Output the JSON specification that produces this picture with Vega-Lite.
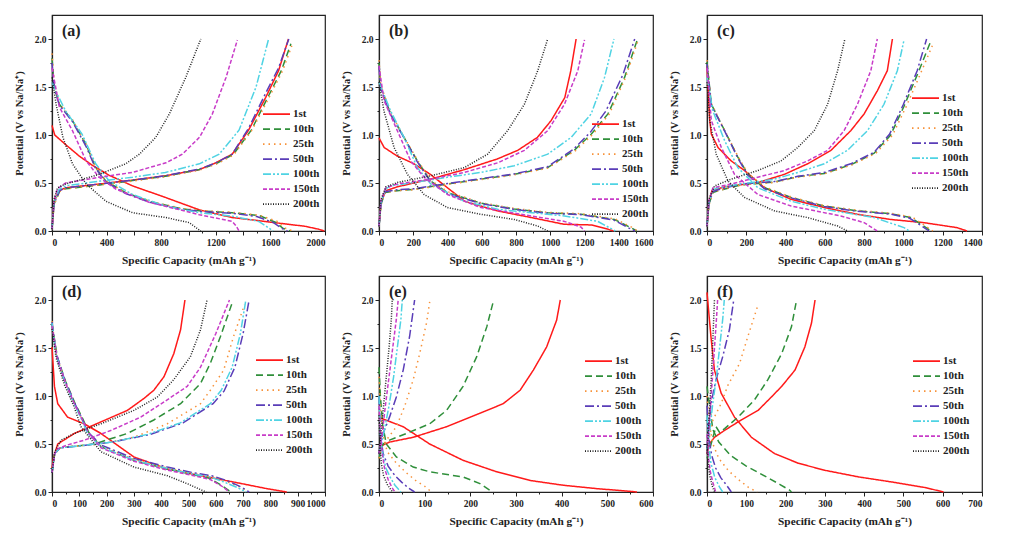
{
"$schema":"https://vega.github.io/schema/vega-lite/v6.json",
"padding":{"left":13,"top":14,"right":5,"bottom":5},
"background":"white",
"data":{"values":[
{"p":"a","c":"1st","b":"d","x":0,"y":1.1},{"p":"a","c":"1st","b":"d","x":20,"y":1},{"p":"a","c":"1st","b":"d","x":100,"y":0.9},{"p":"a","c":"1st","b":"d","x":200,"y":0.78},{"p":"a","c":"1st","b":"d","x":300,"y":0.68},{"p":"a","c":"1st","b":"d","x":420,"y":0.58},{"p":"a","c":"1st","b":"d","x":590,"y":0.47},{"p":"a","c":"1st","b":"d","x":830,"y":0.35},{"p":"a","c":"1st","b":"d","x":1080,"y":0.22},{"p":"a","c":"1st","b":"d","x":1320,"y":0.14},{"p":"a","c":"1st","b":"d","x":1500,"y":0.11},{"p":"a","c":"1st","b":"d","x":1700,"y":0.075},{"p":"a","c":"1st","b":"d","x":1850,"y":0.05},{"p":"a","c":"1st","b":"d","x":1950,"y":0.02},{"p":"a","c":"1st","b":"d","x":1995,"y":0},
{"p":"a","c":"1st","b":"c","x":0,"y":0.02},{"p":"a","c":"1st","b":"c","x":15,"y":0.3},{"p":"a","c":"1st","b":"c","x":50,"y":0.42},{"p":"a","c":"1st","b":"c","x":100,"y":0.45},{"p":"a","c":"1st","b":"c","x":350,"y":0.49},{"p":"a","c":"1st","b":"c","x":590,"y":0.53},{"p":"a","c":"1st","b":"c","x":830,"y":0.575},{"p":"a","c":"1st","b":"c","x":1080,"y":0.64},{"p":"a","c":"1st","b":"c","x":1200,"y":0.71},{"p":"a","c":"1st","b":"c","x":1320,"y":0.8},{"p":"a","c":"1st","b":"c","x":1440,"y":1.05},{"p":"a","c":"1st","b":"c","x":1565,"y":1.39},{"p":"a","c":"1st","b":"c","x":1660,"y":1.67},{"p":"a","c":"1st","b":"c","x":1732,"y":2},
{"p":"a","c":"10th","b":"d","x":0,"y":1.8},{"p":"a","c":"10th","b":"d","x":17,"y":1.5},{"p":"a","c":"10th","b":"d","x":54,"y":1.32},{"p":"a","c":"10th","b":"d","x":150,"y":1.15},{"p":"a","c":"10th","b":"d","x":250,"y":0.9},{"p":"a","c":"10th","b":"d","x":320,"y":0.66},{"p":"a","c":"10th","b":"d","x":395,"y":0.52},{"p":"a","c":"10th","b":"d","x":540,"y":0.4},{"p":"a","c":"10th","b":"d","x":710,"y":0.31},{"p":"a","c":"10th","b":"d","x":955,"y":0.23},{"p":"a","c":"10th","b":"d","x":1080,"y":0.21},{"p":"a","c":"10th","b":"d","x":1320,"y":0.19},{"p":"a","c":"10th","b":"d","x":1520,"y":0.16},{"p":"a","c":"10th","b":"d","x":1640,"y":0.09},{"p":"a","c":"10th","b":"d","x":1690,"y":0.03},{"p":"a","c":"10th","b":"d","x":1750,"y":0},
{"p":"a","c":"10th","b":"c","x":0,"y":0.02},{"p":"a","c":"10th","b":"c","x":15,"y":0.28},{"p":"a","c":"10th","b":"c","x":55,"y":0.41},{"p":"a","c":"10th","b":"c","x":100,"y":0.44},{"p":"a","c":"10th","b":"c","x":350,"y":0.48},{"p":"a","c":"10th","b":"c","x":590,"y":0.525},{"p":"a","c":"10th","b":"c","x":830,"y":0.57},{"p":"a","c":"10th","b":"c","x":1080,"y":0.64},{"p":"a","c":"10th","b":"c","x":1200,"y":0.7},{"p":"a","c":"10th","b":"c","x":1330,"y":0.8},{"p":"a","c":"10th","b":"c","x":1460,"y":1.05},{"p":"a","c":"10th","b":"c","x":1580,"y":1.39},{"p":"a","c":"10th","b":"c","x":1680,"y":1.67},{"p":"a","c":"10th","b":"c","x":1750,"y":1.95},
{"p":"a","c":"25th","b":"d","x":0,"y":1.85},{"p":"a","c":"25th","b":"d","x":17,"y":1.52},{"p":"a","c":"25th","b":"d","x":54,"y":1.33},{"p":"a","c":"25th","b":"d","x":150,"y":1.16},{"p":"a","c":"25th","b":"d","x":250,"y":0.9},{"p":"a","c":"25th","b":"d","x":322,"y":0.66},{"p":"a","c":"25th","b":"d","x":395,"y":0.52},{"p":"a","c":"25th","b":"d","x":540,"y":0.4},{"p":"a","c":"25th","b":"d","x":712,"y":0.31},{"p":"a","c":"25th","b":"d","x":956,"y":0.235},{"p":"a","c":"25th","b":"d","x":1078,"y":0.215},{"p":"a","c":"25th","b":"d","x":1322,"y":0.195},{"p":"a","c":"25th","b":"d","x":1520,"y":0.165},{"p":"a","c":"25th","b":"d","x":1650,"y":0.1},{"p":"a","c":"25th","b":"d","x":1710,"y":0.03},{"p":"a","c":"25th","b":"d","x":1765,"y":0},
{"p":"a","c":"25th","b":"c","x":0,"y":0.02},{"p":"a","c":"25th","b":"c","x":15,"y":0.27},{"p":"a","c":"25th","b":"c","x":55,"y":0.41},{"p":"a","c":"25th","b":"c","x":100,"y":0.44},{"p":"a","c":"25th","b":"c","x":350,"y":0.48},{"p":"a","c":"25th","b":"c","x":590,"y":0.52},{"p":"a","c":"25th","b":"c","x":830,"y":0.565},{"p":"a","c":"25th","b":"c","x":1080,"y":0.635},{"p":"a","c":"25th","b":"c","x":1200,"y":0.695},{"p":"a","c":"25th","b":"c","x":1330,"y":0.79},{"p":"a","c":"25th","b":"c","x":1465,"y":1.05},{"p":"a","c":"25th","b":"c","x":1590,"y":1.39},{"p":"a","c":"25th","b":"c","x":1690,"y":1.67},{"p":"a","c":"25th","b":"c","x":1757,"y":1.93},
{"p":"a","c":"50th","b":"d","x":0,"y":1.75},{"p":"a","c":"50th","b":"d","x":17,"y":1.48},{"p":"a","c":"50th","b":"d","x":54,"y":1.31},{"p":"a","c":"50th","b":"d","x":150,"y":1.14},{"p":"a","c":"50th","b":"d","x":250,"y":0.88},{"p":"a","c":"50th","b":"d","x":320,"y":0.65},{"p":"a","c":"50th","b":"d","x":395,"y":0.51},{"p":"a","c":"50th","b":"d","x":540,"y":0.39},{"p":"a","c":"50th","b":"d","x":712,"y":0.3},{"p":"a","c":"50th","b":"d","x":956,"y":0.225},{"p":"a","c":"50th","b":"d","x":1078,"y":0.205},{"p":"a","c":"50th","b":"d","x":1322,"y":0.185},{"p":"a","c":"50th","b":"d","x":1500,"y":0.15},{"p":"a","c":"50th","b":"d","x":1620,"y":0.09},{"p":"a","c":"50th","b":"d","x":1680,"y":0.03},{"p":"a","c":"50th","b":"d","x":1725,"y":0},
{"p":"a","c":"50th","b":"c","x":0,"y":0.02},{"p":"a","c":"50th","b":"c","x":15,"y":0.29},{"p":"a","c":"50th","b":"c","x":55,"y":0.42},{"p":"a","c":"50th","b":"c","x":100,"y":0.45},{"p":"a","c":"50th","b":"c","x":350,"y":0.49},{"p":"a","c":"50th","b":"c","x":590,"y":0.53},{"p":"a","c":"50th","b":"c","x":830,"y":0.575},{"p":"a","c":"50th","b":"c","x":1080,"y":0.645},{"p":"a","c":"50th","b":"c","x":1200,"y":0.71},{"p":"a","c":"50th","b":"c","x":1320,"y":0.8},{"p":"a","c":"50th","b":"c","x":1440,"y":1.07},{"p":"a","c":"50th","b":"c","x":1560,"y":1.42},{"p":"a","c":"50th","b":"c","x":1660,"y":1.7},{"p":"a","c":"50th","b":"c","x":1735,"y":2},
{"p":"a","c":"100th","b":"d","x":0,"y":1.55},{"p":"a","c":"100th","b":"d","x":30,"y":1.45},{"p":"a","c":"100th","b":"d","x":100,"y":1.25},{"p":"a","c":"100th","b":"d","x":220,"y":1.01},{"p":"a","c":"100th","b":"d","x":320,"y":0.7},{"p":"a","c":"100th","b":"d","x":420,"y":0.52},{"p":"a","c":"100th","b":"d","x":590,"y":0.38},{"p":"a","c":"100th","b":"d","x":830,"y":0.26},{"p":"a","c":"100th","b":"d","x":1080,"y":0.19},{"p":"a","c":"100th","b":"d","x":1320,"y":0.155},{"p":"a","c":"100th","b":"d","x":1515,"y":0.1},{"p":"a","c":"100th","b":"d","x":1590,"y":0.03},{"p":"a","c":"100th","b":"d","x":1620,"y":0},
{"p":"a","c":"100th","b":"c","x":0,"y":0.02},{"p":"a","c":"100th","b":"c","x":15,"y":0.3},{"p":"a","c":"100th","b":"c","x":50,"y":0.43},{"p":"a","c":"100th","b":"c","x":100,"y":0.47},{"p":"a","c":"100th","b":"c","x":350,"y":0.52},{"p":"a","c":"100th","b":"c","x":590,"y":0.56},{"p":"a","c":"100th","b":"c","x":830,"y":0.61},{"p":"a","c":"100th","b":"c","x":1080,"y":0.7},{"p":"a","c":"100th","b":"c","x":1225,"y":0.8},{"p":"a","c":"100th","b":"c","x":1370,"y":1.05},{"p":"a","c":"100th","b":"c","x":1495,"y":1.5},{"p":"a","c":"100th","b":"c","x":1585,"y":1.99},
{"p":"a","c":"150th","b":"d","x":0,"y":1.7},{"p":"a","c":"150th","b":"d","x":54,"y":1.29},{"p":"a","c":"150th","b":"d","x":150,"y":1.045},{"p":"a","c":"150th","b":"d","x":250,"y":0.73},{"p":"a","c":"150th","b":"d","x":345,"y":0.56},{"p":"a","c":"150th","b":"d","x":470,"y":0.435},{"p":"a","c":"150th","b":"d","x":710,"y":0.3},{"p":"a","c":"150th","b":"d","x":1080,"y":0.17},{"p":"a","c":"150th","b":"d","x":1320,"y":0.1},{"p":"a","c":"150th","b":"d","x":1350,"y":0.05},{"p":"a","c":"150th","b":"d","x":1370,"y":0},
{"p":"a","c":"150th","b":"c","x":0,"y":0.02},{"p":"a","c":"150th","b":"c","x":15,"y":0.32},{"p":"a","c":"150th","b":"c","x":40,"y":0.44},{"p":"a","c":"150th","b":"c","x":100,"y":0.5},{"p":"a","c":"150th","b":"c","x":345,"y":0.56},{"p":"a","c":"150th","b":"c","x":590,"y":0.61},{"p":"a","c":"150th","b":"c","x":710,"y":0.66},{"p":"a","c":"150th","b":"c","x":835,"y":0.71},{"p":"a","c":"150th","b":"c","x":955,"y":0.8},{"p":"a","c":"150th","b":"c","x":1080,"y":0.975},{"p":"a","c":"150th","b":"c","x":1175,"y":1.22},{"p":"a","c":"150th","b":"c","x":1275,"y":1.6},{"p":"a","c":"150th","b":"c","x":1358,"y":1.99},
{"p":"a","c":"200th","b":"d","x":0,"y":1.6},{"p":"a","c":"200th","b":"d","x":30,"y":1.32},{"p":"a","c":"200th","b":"d","x":80,"y":0.975},{"p":"a","c":"200th","b":"d","x":150,"y":0.7},{"p":"a","c":"200th","b":"d","x":250,"y":0.49},{"p":"a","c":"200th","b":"d","x":395,"y":0.31},{"p":"a","c":"200th","b":"d","x":590,"y":0.19},{"p":"a","c":"200th","b":"d","x":835,"y":0.14},{"p":"a","c":"200th","b":"d","x":1005,"y":0.087},{"p":"a","c":"200th","b":"d","x":1060,"y":0.03},{"p":"a","c":"200th","b":"d","x":1090,"y":0},
{"p":"a","c":"200th","b":"c","x":0,"y":0.02},{"p":"a","c":"200th","b":"c","x":15,"y":0.33},{"p":"a","c":"200th","b":"c","x":40,"y":0.45},{"p":"a","c":"200th","b":"c","x":100,"y":0.49},{"p":"a","c":"200th","b":"c","x":225,"y":0.54},{"p":"a","c":"200th","b":"c","x":345,"y":0.59},{"p":"a","c":"200th","b":"c","x":540,"y":0.7},{"p":"a","c":"200th","b":"c","x":640,"y":0.8},{"p":"a","c":"200th","b":"c","x":760,"y":0.975},{"p":"a","c":"200th","b":"c","x":860,"y":1.22},{"p":"a","c":"200th","b":"c","x":980,"y":1.6},{"p":"a","c":"200th","b":"c","x":1090,"y":2},

{"p":"b","c":"1st","b":"d","x":0,"y":0.97},{"p":"b","c":"1st","b":"d","x":30,"y":0.87},{"p":"b","c":"1st","b":"d","x":107,"y":0.78},{"p":"b","c":"1st","b":"d","x":205,"y":0.7},{"p":"b","c":"1st","b":"d","x":300,"y":0.59},{"p":"b","c":"1st","b":"d","x":400,"y":0.45},{"p":"b","c":"1st","b":"d","x":500,"y":0.31},{"p":"b","c":"1st","b":"d","x":690,"y":0.21},{"p":"b","c":"1st","b":"d","x":890,"y":0.14},{"p":"b","c":"1st","b":"d","x":1080,"y":0.07},{"p":"b","c":"1st","b":"d","x":1240,"y":0.063},{"p":"b","c":"1st","b":"d","x":1340,"y":0.017},{"p":"b","c":"1st","b":"d","x":1370,"y":0},
{"p":"b","c":"1st","b":"c","x":0,"y":0.05},{"p":"b","c":"1st","b":"c","x":12,"y":0.3},{"p":"b","c":"1st","b":"c","x":40,"y":0.42},{"p":"b","c":"1st","b":"c","x":107,"y":0.46},{"p":"b","c":"1st","b":"c","x":300,"y":0.54},{"p":"b","c":"1st","b":"c","x":500,"y":0.64},{"p":"b","c":"1st","b":"c","x":690,"y":0.75},{"p":"b","c":"1st","b":"c","x":810,"y":0.84},{"p":"b","c":"1st","b":"c","x":925,"y":0.975},{"p":"b","c":"1st","b":"c","x":1005,"y":1.15},{"p":"b","c":"1st","b":"c","x":1085,"y":1.39},{"p":"b","c":"1st","b":"c","x":1120,"y":1.67},{"p":"b","c":"1st","b":"c","x":1151,"y":2},
{"p":"b","c":"10th","b":"d","x":0,"y":1.75},{"p":"b","c":"10th","b":"d","x":10,"y":1.5},{"p":"b","c":"10th","b":"d","x":68,"y":1.22},{"p":"b","c":"10th","b":"d","x":146,"y":0.975},{"p":"b","c":"10th","b":"d","x":224,"y":0.73},{"p":"b","c":"10th","b":"d","x":302,"y":0.52},{"p":"b","c":"10th","b":"d","x":400,"y":0.4},{"p":"b","c":"10th","b":"d","x":595,"y":0.29},{"p":"b","c":"10th","b":"d","x":790,"y":0.23},{"p":"b","c":"10th","b":"d","x":985,"y":0.19},{"p":"b","c":"10th","b":"d","x":1180,"y":0.175},{"p":"b","c":"10th","b":"d","x":1375,"y":0.12},{"p":"b","c":"10th","b":"d","x":1470,"y":0.035},{"p":"b","c":"10th","b":"d","x":1505,"y":0},
{"p":"b","c":"10th","b":"c","x":0,"y":0.05},{"p":"b","c":"10th","b":"c","x":12,"y":0.28},{"p":"b","c":"10th","b":"c","x":35,"y":0.4},{"p":"b","c":"10th","b":"c","x":107,"y":0.42},{"p":"b","c":"10th","b":"c","x":205,"y":0.435},{"p":"b","c":"10th","b":"c","x":400,"y":0.49},{"p":"b","c":"10th","b":"c","x":595,"y":0.54},{"p":"b","c":"10th","b":"c","x":790,"y":0.59},{"p":"b","c":"10th","b":"c","x":985,"y":0.66},{"p":"b","c":"10th","b":"c","x":1140,"y":0.84},{"p":"b","c":"10th","b":"c","x":1240,"y":1.01},{"p":"b","c":"10th","b":"c","x":1337,"y":1.22},{"p":"b","c":"10th","b":"c","x":1434,"y":1.6},{"p":"b","c":"10th","b":"c","x":1508,"y":1.99},
{"p":"b","c":"25th","b":"d","x":0,"y":1.78},{"p":"b","c":"25th","b":"d","x":10,"y":1.52},{"p":"b","c":"25th","b":"d","x":68,"y":1.23},{"p":"b","c":"25th","b":"d","x":146,"y":0.98},{"p":"b","c":"25th","b":"d","x":224,"y":0.74},{"p":"b","c":"25th","b":"d","x":302,"y":0.53},{"p":"b","c":"25th","b":"d","x":400,"y":0.41},{"p":"b","c":"25th","b":"d","x":595,"y":0.295},{"p":"b","c":"25th","b":"d","x":790,"y":0.235},{"p":"b","c":"25th","b":"d","x":985,"y":0.195},{"p":"b","c":"25th","b":"d","x":1180,"y":0.18},{"p":"b","c":"25th","b":"d","x":1380,"y":0.125},{"p":"b","c":"25th","b":"d","x":1475,"y":0.04},{"p":"b","c":"25th","b":"d","x":1510,"y":0},
{"p":"b","c":"25th","b":"c","x":0,"y":0.05},{"p":"b","c":"25th","b":"c","x":12,"y":0.27},{"p":"b","c":"25th","b":"c","x":35,"y":0.4},{"p":"b","c":"25th","b":"c","x":107,"y":0.42},{"p":"b","c":"25th","b":"c","x":205,"y":0.43},{"p":"b","c":"25th","b":"c","x":400,"y":0.485},{"p":"b","c":"25th","b":"c","x":595,"y":0.535},{"p":"b","c":"25th","b":"c","x":790,"y":0.585},{"p":"b","c":"25th","b":"c","x":985,"y":0.655},{"p":"b","c":"25th","b":"c","x":1150,"y":0.84},{"p":"b","c":"25th","b":"c","x":1250,"y":1.01},{"p":"b","c":"25th","b":"c","x":1345,"y":1.22},{"p":"b","c":"25th","b":"c","x":1440,"y":1.6},{"p":"b","c":"25th","b":"c","x":1512,"y":1.98},
{"p":"b","c":"50th","b":"d","x":0,"y":1.72},{"p":"b","c":"50th","b":"d","x":10,"y":1.48},{"p":"b","c":"50th","b":"d","x":68,"y":1.21},{"p":"b","c":"50th","b":"d","x":146,"y":0.97},{"p":"b","c":"50th","b":"d","x":224,"y":0.72},{"p":"b","c":"50th","b":"d","x":302,"y":0.51},{"p":"b","c":"50th","b":"d","x":400,"y":0.39},{"p":"b","c":"50th","b":"d","x":595,"y":0.285},{"p":"b","c":"50th","b":"d","x":790,"y":0.225},{"p":"b","c":"50th","b":"d","x":985,"y":0.185},{"p":"b","c":"50th","b":"d","x":1180,"y":0.17},{"p":"b","c":"50th","b":"d","x":1370,"y":0.115},{"p":"b","c":"50th","b":"d","x":1460,"y":0.03},{"p":"b","c":"50th","b":"d","x":1495,"y":0},
{"p":"b","c":"50th","b":"c","x":0,"y":0.05},{"p":"b","c":"50th","b":"c","x":12,"y":0.29},{"p":"b","c":"50th","b":"c","x":35,"y":0.41},{"p":"b","c":"50th","b":"c","x":107,"y":0.43},{"p":"b","c":"50th","b":"c","x":205,"y":0.44},{"p":"b","c":"50th","b":"c","x":400,"y":0.495},{"p":"b","c":"50th","b":"c","x":595,"y":0.545},{"p":"b","c":"50th","b":"c","x":790,"y":0.595},{"p":"b","c":"50th","b":"c","x":985,"y":0.67},{"p":"b","c":"50th","b":"c","x":1135,"y":0.85},{"p":"b","c":"50th","b":"c","x":1235,"y":1.03},{"p":"b","c":"50th","b":"c","x":1325,"y":1.25},{"p":"b","c":"50th","b":"c","x":1425,"y":1.63},{"p":"b","c":"50th","b":"c","x":1493,"y":2},
{"p":"b","c":"100th","b":"d","x":0,"y":1.55},{"p":"b","c":"100th","b":"d","x":68,"y":1.25},{"p":"b","c":"100th","b":"d","x":146,"y":0.975},{"p":"b","c":"100th","b":"d","x":224,"y":0.66},{"p":"b","c":"100th","b":"d","x":302,"y":0.49},{"p":"b","c":"100th","b":"d","x":498,"y":0.31},{"p":"b","c":"100th","b":"d","x":693,"y":0.226},{"p":"b","c":"100th","b":"d","x":1083,"y":0.157},{"p":"b","c":"100th","b":"d","x":1278,"y":0.1},{"p":"b","c":"100th","b":"d","x":1360,"y":0.02},{"p":"b","c":"100th","b":"d","x":1380,"y":0},
{"p":"b","c":"100th","b":"c","x":0,"y":0.05},{"p":"b","c":"100th","b":"c","x":12,"y":0.3},{"p":"b","c":"100th","b":"c","x":40,"y":0.44},{"p":"b","c":"100th","b":"c","x":68,"y":0.47},{"p":"b","c":"100th","b":"c","x":205,"y":0.505},{"p":"b","c":"100th","b":"c","x":400,"y":0.56},{"p":"b","c":"100th","b":"c","x":595,"y":0.61},{"p":"b","c":"100th","b":"c","x":790,"y":0.68},{"p":"b","c":"100th","b":"c","x":985,"y":0.8},{"p":"b","c":"100th","b":"c","x":1122,"y":0.975},{"p":"b","c":"100th","b":"c","x":1239,"y":1.22},{"p":"b","c":"100th","b":"c","x":1317,"y":1.6},{"p":"b","c":"100th","b":"c","x":1372,"y":2},
{"p":"b","c":"150th","b":"d","x":0,"y":1.72},{"p":"b","c":"150th","b":"d","x":29,"y":1.36},{"p":"b","c":"150th","b":"d","x":107,"y":1.045},{"p":"b","c":"150th","b":"d","x":185,"y":0.73},{"p":"b","c":"150th","b":"d","x":263,"y":0.56},{"p":"b","c":"150th","b":"d","x":400,"y":0.38},{"p":"b","c":"150th","b":"d","x":595,"y":0.244},{"p":"b","c":"150th","b":"d","x":888,"y":0.157},{"p":"b","c":"150th","b":"d","x":1083,"y":0.1},{"p":"b","c":"150th","b":"d","x":1180,"y":0.04},{"p":"b","c":"150th","b":"d","x":1200,"y":0},
{"p":"b","c":"150th","b":"c","x":0,"y":0.05},{"p":"b","c":"150th","b":"c","x":12,"y":0.32},{"p":"b","c":"150th","b":"c","x":40,"y":0.45},{"p":"b","c":"150th","b":"c","x":107,"y":0.49},{"p":"b","c":"150th","b":"c","x":302,"y":0.54},{"p":"b","c":"150th","b":"c","x":498,"y":0.61},{"p":"b","c":"150th","b":"c","x":693,"y":0.71},{"p":"b","c":"150th","b":"c","x":849,"y":0.84},{"p":"b","c":"150th","b":"c","x":985,"y":1.045},{"p":"b","c":"150th","b":"c","x":1083,"y":1.32},{"p":"b","c":"150th","b":"c","x":1161,"y":1.67},{"p":"b","c":"150th","b":"c","x":1200,"y":1.99},
{"p":"b","c":"200th","b":"d","x":0,"y":1.55},{"p":"b","c":"200th","b":"d","x":29,"y":1.25},{"p":"b","c":"200th","b":"d","x":88,"y":0.87},{"p":"b","c":"200th","b":"d","x":166,"y":0.59},{"p":"b","c":"200th","b":"d","x":263,"y":0.38},{"p":"b","c":"200th","b":"d","x":400,"y":0.244},{"p":"b","c":"200th","b":"d","x":595,"y":0.174},{"p":"b","c":"200th","b":"d","x":790,"y":0.12},{"p":"b","c":"200th","b":"d","x":927,"y":0.052},{"p":"b","c":"200th","b":"d","x":985,"y":0},
{"p":"b","c":"200th","b":"c","x":0,"y":0.05},{"p":"b","c":"200th","b":"c","x":12,"y":0.33},{"p":"b","c":"200th","b":"c","x":40,"y":0.46},{"p":"b","c":"200th","b":"c","x":107,"y":0.505},{"p":"b","c":"200th","b":"c","x":302,"y":0.575},{"p":"b","c":"200th","b":"c","x":498,"y":0.66},{"p":"b","c":"200th","b":"c","x":634,"y":0.8},{"p":"b","c":"200th","b":"c","x":751,"y":1.045},{"p":"b","c":"200th","b":"c","x":849,"y":1.32},{"p":"b","c":"200th","b":"c","x":927,"y":1.67},{"p":"b","c":"200th","b":"c","x":985,"y":2},

{"p":"c","c":"1st","b":"d","x":0,"y":1.72},{"p":"c","c":"1st","b":"d","x":14,"y":1.15},{"p":"c","c":"1st","b":"d","x":22,"y":1.01},{"p":"c","c":"1st","b":"d","x":56,"y":0.87},{"p":"c","c":"1st","b":"d","x":123,"y":0.73},{"p":"c","c":"1st","b":"d","x":191,"y":0.63},{"p":"c","c":"1st","b":"d","x":293,"y":0.45},{"p":"c","c":"1st","b":"d","x":428,"y":0.33},{"p":"c","c":"1st","b":"d","x":597,"y":0.244},{"p":"c","c":"1st","b":"d","x":766,"y":0.174},{"p":"c","c":"1st","b":"d","x":935,"y":0.12},{"p":"c","c":"1st","b":"d","x":1104,"y":0.087},{"p":"c","c":"1st","b":"d","x":1273,"y":0.035},{"p":"c","c":"1st","b":"d","x":1324,"y":0},
{"p":"c","c":"1st","b":"c","x":0,"y":0.05},{"p":"c","c":"1st","b":"c","x":10,"y":0.3},{"p":"c","c":"1st","b":"c","x":25,"y":0.42},{"p":"c","c":"1st","b":"c","x":90,"y":0.46},{"p":"c","c":"1st","b":"c","x":259,"y":0.505},{"p":"c","c":"1st","b":"c","x":394,"y":0.59},{"p":"c","c":"1st","b":"c","x":512,"y":0.7},{"p":"c","c":"1st","b":"c","x":631,"y":0.84},{"p":"c","c":"1st","b":"c","x":732,"y":1.045},{"p":"c","c":"1st","b":"c","x":800,"y":1.22},{"p":"c","c":"1st","b":"c","x":867,"y":1.46},{"p":"c","c":"1st","b":"c","x":918,"y":1.67},{"p":"c","c":"1st","b":"c","x":944,"y":2},
{"p":"c","c":"10th","b":"d","x":0,"y":1.76},{"p":"c","c":"10th","b":"d","x":22,"y":1.32},{"p":"c","c":"10th","b":"d","x":90,"y":1.045},{"p":"c","c":"10th","b":"d","x":157,"y":0.77},{"p":"c","c":"10th","b":"d","x":208,"y":0.59},{"p":"c","c":"10th","b":"d","x":293,"y":0.45},{"p":"c","c":"10th","b":"d","x":428,"y":0.35},{"p":"c","c":"10th","b":"d","x":597,"y":0.26},{"p":"c","c":"10th","b":"d","x":766,"y":0.21},{"p":"c","c":"10th","b":"d","x":935,"y":0.18},{"p":"c","c":"10th","b":"d","x":1037,"y":0.14},{"p":"c","c":"10th","b":"d","x":1104,"y":0.052},{"p":"c","c":"10th","b":"d","x":1140,"y":0},
{"p":"c","c":"10th","b":"c","x":0,"y":0.05},{"p":"c","c":"10th","b":"c","x":10,"y":0.28},{"p":"c","c":"10th","b":"c","x":30,"y":0.4},{"p":"c","c":"10th","b":"c","x":56,"y":0.42},{"p":"c","c":"10th","b":"c","x":174,"y":0.48},{"p":"c","c":"10th","b":"c","x":343,"y":0.51},{"p":"c","c":"10th","b":"c","x":462,"y":0.565},{"p":"c","c":"10th","b":"c","x":597,"y":0.6},{"p":"c","c":"10th","b":"c","x":732,"y":0.69},{"p":"c","c":"10th","b":"c","x":851,"y":0.81},{"p":"c","c":"10th","b":"c","x":935,"y":1},{"p":"c","c":"10th","b":"c","x":1003,"y":1.3},{"p":"c","c":"10th","b":"c","x":1075,"y":1.65},{"p":"c","c":"10th","b":"c","x":1138,"y":1.97},
{"p":"c","c":"25th","b":"d","x":0,"y":1.78},{"p":"c","c":"25th","b":"d","x":22,"y":1.33},{"p":"c","c":"25th","b":"d","x":90,"y":1.05},{"p":"c","c":"25th","b":"d","x":157,"y":0.78},{"p":"c","c":"25th","b":"d","x":208,"y":0.6},{"p":"c","c":"25th","b":"d","x":293,"y":0.46},{"p":"c","c":"25th","b":"d","x":428,"y":0.355},{"p":"c","c":"25th","b":"d","x":597,"y":0.265},{"p":"c","c":"25th","b":"d","x":766,"y":0.215},{"p":"c","c":"25th","b":"d","x":935,"y":0.185},{"p":"c","c":"25th","b":"d","x":1045,"y":0.145},{"p":"c","c":"25th","b":"d","x":1110,"y":0.055},{"p":"c","c":"25th","b":"d","x":1150,"y":0},
{"p":"c","c":"25th","b":"c","x":0,"y":0.05},{"p":"c","c":"25th","b":"c","x":10,"y":0.27},{"p":"c","c":"25th","b":"c","x":30,"y":0.4},{"p":"c","c":"25th","b":"c","x":56,"y":0.42},{"p":"c","c":"25th","b":"c","x":174,"y":0.48},{"p":"c","c":"25th","b":"c","x":343,"y":0.505},{"p":"c","c":"25th","b":"c","x":462,"y":0.56},{"p":"c","c":"25th","b":"c","x":597,"y":0.595},{"p":"c","c":"25th","b":"c","x":740,"y":0.69},{"p":"c","c":"25th","b":"c","x":860,"y":0.81},{"p":"c","c":"25th","b":"c","x":945,"y":1},{"p":"c","c":"25th","b":"c","x":1015,"y":1.3},{"p":"c","c":"25th","b":"c","x":1085,"y":1.63},{"p":"c","c":"25th","b":"c","x":1147,"y":1.93},
{"p":"c","c":"50th","b":"d","x":0,"y":1.74},{"p":"c","c":"50th","b":"d","x":22,"y":1.31},{"p":"c","c":"50th","b":"d","x":90,"y":1.04},{"p":"c","c":"50th","b":"d","x":157,"y":0.76},{"p":"c","c":"50th","b":"d","x":208,"y":0.58},{"p":"c","c":"50th","b":"d","x":293,"y":0.44},{"p":"c","c":"50th","b":"d","x":428,"y":0.345},{"p":"c","c":"50th","b":"d","x":597,"y":0.255},{"p":"c","c":"50th","b":"d","x":766,"y":0.205},{"p":"c","c":"50th","b":"d","x":935,"y":0.175},{"p":"c","c":"50th","b":"d","x":1030,"y":0.135},{"p":"c","c":"50th","b":"d","x":1095,"y":0.05},{"p":"c","c":"50th","b":"d","x":1130,"y":0},
{"p":"c","c":"50th","b":"c","x":0,"y":0.05},{"p":"c","c":"50th","b":"c","x":10,"y":0.29},{"p":"c","c":"50th","b":"c","x":30,"y":0.41},{"p":"c","c":"50th","b":"c","x":56,"y":0.43},{"p":"c","c":"50th","b":"c","x":174,"y":0.49},{"p":"c","c":"50th","b":"c","x":343,"y":0.515},{"p":"c","c":"50th","b":"c","x":462,"y":0.57},{"p":"c","c":"50th","b":"c","x":597,"y":0.61},{"p":"c","c":"50th","b":"c","x":732,"y":0.7},{"p":"c","c":"50th","b":"c","x":851,"y":0.82},{"p":"c","c":"50th","b":"c","x":930,"y":1.01},{"p":"c","c":"50th","b":"c","x":1000,"y":1.32},{"p":"c","c":"50th","b":"c","x":1070,"y":1.67},{"p":"c","c":"50th","b":"c","x":1118,"y":2},
{"p":"c","c":"100th","b":"d","x":0,"y":1.6},{"p":"c","c":"100th","b":"d","x":30,"y":1.25},{"p":"c","c":"100th","b":"d","x":90,"y":0.94},{"p":"c","c":"100th","b":"d","x":157,"y":0.66},{"p":"c","c":"100th","b":"d","x":259,"y":0.45},{"p":"c","c":"100th","b":"d","x":428,"y":0.31},{"p":"c","c":"100th","b":"d","x":597,"y":0.226},{"p":"c","c":"100th","b":"d","x":851,"y":0.14},{"p":"c","c":"100th","b":"d","x":1003,"y":0.035},{"p":"c","c":"100th","b":"d","x":1030,"y":0},
{"p":"c","c":"100th","b":"c","x":0,"y":0.05},{"p":"c","c":"100th","b":"c","x":10,"y":0.3},{"p":"c","c":"100th","b":"c","x":30,"y":0.43},{"p":"c","c":"100th","b":"c","x":56,"y":0.45},{"p":"c","c":"100th","b":"c","x":174,"y":0.49},{"p":"c","c":"100th","b":"c","x":343,"y":0.54},{"p":"c","c":"100th","b":"c","x":462,"y":0.61},{"p":"c","c":"100th","b":"c","x":597,"y":0.7},{"p":"c","c":"100th","b":"c","x":715,"y":0.84},{"p":"c","c":"100th","b":"c","x":817,"y":1.045},{"p":"c","c":"100th","b":"c","x":901,"y":1.32},{"p":"c","c":"100th","b":"c","x":969,"y":1.67},{"p":"c","c":"100th","b":"c","x":1003,"y":1.99},
{"p":"c","c":"150th","b":"d","x":0,"y":1.7},{"p":"c","c":"150th","b":"d","x":22,"y":1.15},{"p":"c","c":"150th","b":"d","x":73,"y":0.87},{"p":"c","c":"150th","b":"d","x":140,"y":0.59},{"p":"c","c":"150th","b":"d","x":259,"y":0.38},{"p":"c","c":"150th","b":"d","x":428,"y":0.26},{"p":"c","c":"150th","b":"d","x":681,"y":0.157},{"p":"c","c":"150th","b":"d","x":800,"y":0.087},{"p":"c","c":"150th","b":"d","x":867,"y":0},
{"p":"c","c":"150th","b":"c","x":0,"y":0.05},{"p":"c","c":"150th","b":"c","x":10,"y":0.32},{"p":"c","c":"150th","b":"c","x":30,"y":0.45},{"p":"c","c":"150th","b":"c","x":123,"y":0.49},{"p":"c","c":"150th","b":"c","x":259,"y":0.56},{"p":"c","c":"150th","b":"c","x":394,"y":0.63},{"p":"c","c":"150th","b":"c","x":512,"y":0.73},{"p":"c","c":"150th","b":"c","x":614,"y":0.84},{"p":"c","c":"150th","b":"c","x":698,"y":1.045},{"p":"c","c":"150th","b":"c","x":766,"y":1.32},{"p":"c","c":"150th","b":"c","x":834,"y":1.67},{"p":"c","c":"150th","b":"c","x":867,"y":2},
{"p":"c","c":"200th","b":"d","x":0,"y":1.55},{"p":"c","c":"200th","b":"d","x":14,"y":1.15},{"p":"c","c":"200th","b":"d","x":47,"y":0.8},{"p":"c","c":"200th","b":"d","x":107,"y":0.52},{"p":"c","c":"200th","b":"d","x":191,"y":0.35},{"p":"c","c":"200th","b":"d","x":343,"y":0.21},{"p":"c","c":"200th","b":"d","x":512,"y":0.14},{"p":"c","c":"200th","b":"d","x":665,"y":0.052},{"p":"c","c":"200th","b":"d","x":715,"y":0},
{"p":"c","c":"200th","b":"c","x":0,"y":0.05},{"p":"c","c":"200th","b":"c","x":10,"y":0.33},{"p":"c","c":"200th","b":"c","x":39,"y":0.47},{"p":"c","c":"200th","b":"c","x":123,"y":0.54},{"p":"c","c":"200th","b":"c","x":259,"y":0.63},{"p":"c","c":"200th","b":"c","x":377,"y":0.73},{"p":"c","c":"200th","b":"c","x":462,"y":0.87},{"p":"c","c":"200th","b":"c","x":546,"y":1.045},{"p":"c","c":"200th","b":"c","x":614,"y":1.32},{"p":"c","c":"200th","b":"c","x":665,"y":1.67},{"p":"c","c":"200th","b":"c","x":702,"y":2},

{"p":"d","c":"1st","b":"d","x":0,"y":1.51},{"p":"d","c":"1st","b":"d","x":9,"y":1.1},{"p":"d","c":"1st","b":"d","x":21,"y":0.92},{"p":"d","c":"1st","b":"d","x":57,"y":0.78},{"p":"d","c":"1st","b":"d","x":118,"y":0.71},{"p":"d","c":"1st","b":"d","x":179,"y":0.61},{"p":"d","c":"1st","b":"d","x":300,"y":0.365},{"p":"d","c":"1st","b":"d","x":422,"y":0.24},{"p":"d","c":"1st","b":"d","x":544,"y":0.17},{"p":"d","c":"1st","b":"d","x":665,"y":0.104},{"p":"d","c":"1st","b":"d","x":787,"y":0.035},{"p":"d","c":"1st","b":"d","x":860,"y":0},
{"p":"d","c":"1st","b":"c","x":0,"y":0.25},{"p":"d","c":"1st","b":"c","x":6,"y":0.365},{"p":"d","c":"1st","b":"c","x":21,"y":0.5},{"p":"d","c":"1st","b":"c","x":82,"y":0.61},{"p":"d","c":"1st","b":"c","x":179,"y":0.73},{"p":"d","c":"1st","b":"c","x":276,"y":0.85},{"p":"d","c":"1st","b":"c","x":337,"y":0.975},{"p":"d","c":"1st","b":"c","x":373,"y":1.06},{"p":"d","c":"1st","b":"c","x":410,"y":1.2},{"p":"d","c":"1st","b":"c","x":446,"y":1.44},{"p":"d","c":"1st","b":"c","x":471,"y":1.69},{"p":"d","c":"1st","b":"c","x":487,"y":2},
{"p":"d","c":"10th","b":"d","x":0,"y":1.75},{"p":"d","c":"10th","b":"d","x":20,"y":1.4},{"p":"d","c":"10th","b":"d","x":50,"y":1.15},{"p":"d","c":"10th","b":"d","x":85,"y":0.92},{"p":"d","c":"10th","b":"d","x":110,"y":0.78},{"p":"d","c":"10th","b":"d","x":135,"y":0.62},{"p":"d","c":"10th","b":"d","x":180,"y":0.47},{"p":"d","c":"10th","b":"d","x":300,"y":0.33},{"p":"d","c":"10th","b":"d","x":420,"y":0.24},{"p":"d","c":"10th","b":"d","x":520,"y":0.18},{"p":"d","c":"10th","b":"d","x":580,"y":0.14},{"p":"d","c":"10th","b":"d","x":620,"y":0.07},{"p":"d","c":"10th","b":"d","x":655,"y":0},
{"p":"d","c":"10th","b":"c","x":0,"y":0.2},{"p":"d","c":"10th","b":"c","x":10,"y":0.4},{"p":"d","c":"10th","b":"c","x":30,"y":0.46},{"p":"d","c":"10th","b":"c","x":57,"y":0.47},{"p":"d","c":"10th","b":"c","x":155,"y":0.5},{"p":"d","c":"10th","b":"c","x":276,"y":0.61},{"p":"d","c":"10th","b":"c","x":373,"y":0.75},{"p":"d","c":"10th","b":"c","x":471,"y":0.92},{"p":"d","c":"10th","b":"c","x":544,"y":1.13},{"p":"d","c":"10th","b":"c","x":580,"y":1.34},{"p":"d","c":"10th","b":"c","x":617,"y":1.62},{"p":"d","c":"10th","b":"c","x":660,"y":1.97},
{"p":"d","c":"25th","b":"d","x":0,"y":1.78},{"p":"d","c":"25th","b":"d","x":15,"y":1.44},{"p":"d","c":"25th","b":"d","x":45,"y":1.17},{"p":"d","c":"25th","b":"d","x":82,"y":0.92},{"p":"d","c":"25th","b":"d","x":106,"y":0.78},{"p":"d","c":"25th","b":"d","x":130,"y":0.62},{"p":"d","c":"25th","b":"d","x":179,"y":0.48},{"p":"d","c":"25th","b":"d","x":300,"y":0.34},{"p":"d","c":"25th","b":"d","x":422,"y":0.25},{"p":"d","c":"25th","b":"d","x":519,"y":0.19},{"p":"d","c":"25th","b":"d","x":580,"y":0.165},{"p":"d","c":"25th","b":"d","x":630,"y":0.12},{"p":"d","c":"25th","b":"d","x":690,"y":0.05},{"p":"d","c":"25th","b":"d","x":718,"y":0},
{"p":"d","c":"25th","b":"c","x":0,"y":0.2},{"p":"d","c":"25th","b":"c","x":10,"y":0.4},{"p":"d","c":"25th","b":"c","x":30,"y":0.46},{"p":"d","c":"25th","b":"c","x":57,"y":0.47},{"p":"d","c":"25th","b":"c","x":179,"y":0.5},{"p":"d","c":"25th","b":"c","x":300,"y":0.57},{"p":"d","c":"25th","b":"c","x":422,"y":0.71},{"p":"d","c":"25th","b":"c","x":544,"y":0.92},{"p":"d","c":"25th","b":"c","x":580,"y":1.06},{"p":"d","c":"25th","b":"c","x":629,"y":1.27},{"p":"d","c":"25th","b":"c","x":665,"y":1.62},{"p":"d","c":"25th","b":"c","x":705,"y":1.95},
{"p":"d","c":"50th","b":"d","x":0,"y":1.77},{"p":"d","c":"50th","b":"d","x":15,"y":1.45},{"p":"d","c":"50th","b":"d","x":45,"y":1.18},{"p":"d","c":"50th","b":"d","x":82,"y":0.93},{"p":"d","c":"50th","b":"d","x":106,"y":0.79},{"p":"d","c":"50th","b":"d","x":130,"y":0.63},{"p":"d","c":"50th","b":"d","x":179,"y":0.49},{"p":"d","c":"50th","b":"d","x":300,"y":0.35},{"p":"d","c":"50th","b":"d","x":422,"y":0.26},{"p":"d","c":"50th","b":"d","x":519,"y":0.2},{"p":"d","c":"50th","b":"d","x":585,"y":0.17},{"p":"d","c":"50th","b":"d","x":640,"y":0.12},{"p":"d","c":"50th","b":"d","x":695,"y":0.05},{"p":"d","c":"50th","b":"d","x":722,"y":0},
{"p":"d","c":"50th","b":"c","x":0,"y":0.2},{"p":"d","c":"50th","b":"c","x":10,"y":0.4},{"p":"d","c":"50th","b":"c","x":30,"y":0.46},{"p":"d","c":"50th","b":"c","x":100,"y":0.48},{"p":"d","c":"50th","b":"c","x":220,"y":0.52},{"p":"d","c":"50th","b":"c","x":360,"y":0.6},{"p":"d","c":"50th","b":"c","x":480,"y":0.72},{"p":"d","c":"50th","b":"c","x":590,"y":0.92},{"p":"d","c":"50th","b":"c","x":630,"y":1.05},{"p":"d","c":"50th","b":"c","x":670,"y":1.3},{"p":"d","c":"50th","b":"c","x":700,"y":1.65},{"p":"d","c":"50th","b":"c","x":722,"y":2},
{"p":"d","c":"100th","b":"d","x":0,"y":1.76},{"p":"d","c":"100th","b":"d","x":15,"y":1.43},{"p":"d","c":"100th","b":"d","x":45,"y":1.16},{"p":"d","c":"100th","b":"d","x":82,"y":0.91},{"p":"d","c":"100th","b":"d","x":106,"y":0.77},{"p":"d","c":"100th","b":"d","x":130,"y":0.61},{"p":"d","c":"100th","b":"d","x":179,"y":0.47},{"p":"d","c":"100th","b":"d","x":300,"y":0.33},{"p":"d","c":"100th","b":"d","x":422,"y":0.245},{"p":"d","c":"100th","b":"d","x":519,"y":0.185},{"p":"d","c":"100th","b":"d","x":575,"y":0.16},{"p":"d","c":"100th","b":"d","x":625,"y":0.11},{"p":"d","c":"100th","b":"d","x":680,"y":0.045},{"p":"d","c":"100th","b":"d","x":712,"y":0},
{"p":"d","c":"100th","b":"c","x":0,"y":0.2},{"p":"d","c":"100th","b":"c","x":10,"y":0.4},{"p":"d","c":"100th","b":"c","x":30,"y":0.46},{"p":"d","c":"100th","b":"c","x":100,"y":0.48},{"p":"d","c":"100th","b":"c","x":220,"y":0.52},{"p":"d","c":"100th","b":"c","x":350,"y":0.6},{"p":"d","c":"100th","b":"c","x":470,"y":0.72},{"p":"d","c":"100th","b":"c","x":580,"y":0.92},{"p":"d","c":"100th","b":"c","x":620,"y":1.06},{"p":"d","c":"100th","b":"c","x":660,"y":1.3},{"p":"d","c":"100th","b":"c","x":690,"y":1.65},{"p":"d","c":"100th","b":"c","x":710,"y":2},
{"p":"d","c":"150th","b":"d","x":0,"y":1.73},{"p":"d","c":"150th","b":"d","x":20,"y":1.38},{"p":"d","c":"150th","b":"d","x":50,"y":1.13},{"p":"d","c":"150th","b":"d","x":85,"y":0.9},{"p":"d","c":"150th","b":"d","x":110,"y":0.76},{"p":"d","c":"150th","b":"d","x":135,"y":0.61},{"p":"d","c":"150th","b":"d","x":180,"y":0.46},{"p":"d","c":"150th","b":"d","x":300,"y":0.32},{"p":"d","c":"150th","b":"d","x":420,"y":0.23},{"p":"d","c":"150th","b":"d","x":520,"y":0.17},{"p":"d","c":"150th","b":"d","x":580,"y":0.13},{"p":"d","c":"150th","b":"d","x":620,"y":0.065},{"p":"d","c":"150th","b":"d","x":650,"y":0},
{"p":"d","c":"150th","b":"c","x":0,"y":0.2},{"p":"d","c":"150th","b":"c","x":10,"y":0.4},{"p":"d","c":"150th","b":"c","x":20,"y":0.45},{"p":"d","c":"150th","b":"c","x":57,"y":0.49},{"p":"d","c":"150th","b":"c","x":118,"y":0.54},{"p":"d","c":"150th","b":"c","x":215,"y":0.64},{"p":"d","c":"150th","b":"c","x":325,"y":0.78},{"p":"d","c":"150th","b":"c","x":422,"y":0.96},{"p":"d","c":"150th","b":"c","x":495,"y":1.1},{"p":"d","c":"150th","b":"c","x":544,"y":1.3},{"p":"d","c":"150th","b":"c","x":600,"y":1.65},{"p":"d","c":"150th","b":"c","x":650,"y":2},
{"p":"d","c":"200th","b":"d","x":0,"y":1.7},{"p":"d","c":"200th","b":"d","x":15,"y":1.4},{"p":"d","c":"200th","b":"d","x":45,"y":1.12},{"p":"d","c":"200th","b":"d","x":82,"y":0.88},{"p":"d","c":"200th","b":"d","x":106,"y":0.68},{"p":"d","c":"200th","b":"d","x":179,"y":0.42},{"p":"d","c":"200th","b":"d","x":300,"y":0.26},{"p":"d","c":"200th","b":"d","x":422,"y":0.17},{"p":"d","c":"200th","b":"d","x":495,"y":0.087},{"p":"d","c":"200th","b":"d","x":540,"y":0.03},{"p":"d","c":"200th","b":"d","x":565,"y":0},
{"p":"d","c":"200th","b":"c","x":0,"y":0.2},{"p":"d","c":"200th","b":"c","x":10,"y":0.42},{"p":"d","c":"200th","b":"c","x":33,"y":0.54},{"p":"d","c":"200th","b":"c","x":82,"y":0.61},{"p":"d","c":"200th","b":"c","x":179,"y":0.71},{"p":"d","c":"200th","b":"c","x":300,"y":0.85},{"p":"d","c":"200th","b":"c","x":386,"y":0.99},{"p":"d","c":"200th","b":"c","x":446,"y":1.17},{"p":"d","c":"200th","b":"c","x":507,"y":1.41},{"p":"d","c":"200th","b":"c","x":544,"y":1.69},{"p":"d","c":"200th","b":"c","x":568,"y":2},

{"p":"e","c":"1st","b":"d","x":0,"y":0.77},{"p":"e","c":"1st","b":"d","x":9,"y":0.76},{"p":"e","c":"1st","b":"d","x":53,"y":0.68},{"p":"e","c":"1st","b":"d","x":111,"y":0.5},{"p":"e","c":"1st","b":"d","x":184,"y":0.33},{"p":"e","c":"1st","b":"d","x":258,"y":0.21},{"p":"e","c":"1st","b":"d","x":331,"y":0.12},{"p":"e","c":"1st","b":"d","x":404,"y":0.07},{"p":"e","c":"1st","b":"d","x":477,"y":0.035},{"p":"e","c":"1st","b":"d","x":550,"y":0.007},{"p":"e","c":"1st","b":"d","x":565,"y":0},
{"p":"e","c":"1st","b":"c","x":0,"y":0.4},{"p":"e","c":"1st","b":"c","x":3,"y":0.46},{"p":"e","c":"1st","b":"c","x":9,"y":0.49},{"p":"e","c":"1st","b":"c","x":23,"y":0.52},{"p":"e","c":"1st","b":"c","x":75,"y":0.57},{"p":"e","c":"1st","b":"c","x":148,"y":0.68},{"p":"e","c":"1st","b":"c","x":221,"y":0.82},{"p":"e","c":"1st","b":"c","x":272,"y":0.92},{"p":"e","c":"1st","b":"c","x":309,"y":1.06},{"p":"e","c":"1st","b":"c","x":338,"y":1.27},{"p":"e","c":"1st","b":"c","x":367,"y":1.51},{"p":"e","c":"1st","b":"c","x":389,"y":1.79},{"p":"e","c":"1st","b":"c","x":397,"y":2},
{"p":"e","c":"10th","b":"d","x":0,"y":1.3},{"p":"e","c":"10th","b":"d","x":3,"y":1},{"p":"e","c":"10th","b":"d","x":8,"y":0.7},{"p":"e","c":"10th","b":"d","x":16,"y":0.5},{"p":"e","c":"10th","b":"d","x":38,"y":0.365},{"p":"e","c":"10th","b":"d","x":75,"y":0.26},{"p":"e","c":"10th","b":"d","x":111,"y":0.21},{"p":"e","c":"10th","b":"d","x":184,"y":0.157},{"p":"e","c":"10th","b":"d","x":221,"y":0.087},{"p":"e","c":"10th","b":"d","x":243,"y":0.017},{"p":"e","c":"10th","b":"d","x":250,"y":0},
{"p":"e","c":"10th","b":"c","x":0,"y":0.35},{"p":"e","c":"10th","b":"c","x":5,"y":0.45},{"p":"e","c":"10th","b":"c","x":9,"y":0.5},{"p":"e","c":"10th","b":"c","x":23,"y":0.54},{"p":"e","c":"10th","b":"c","x":60,"y":0.61},{"p":"e","c":"10th","b":"c","x":111,"y":0.71},{"p":"e","c":"10th","b":"c","x":148,"y":0.85},{"p":"e","c":"10th","b":"c","x":184,"y":1.1},{"p":"e","c":"10th","b":"c","x":214,"y":1.41},{"p":"e","c":"10th","b":"c","x":236,"y":1.72},{"p":"e","c":"10th","b":"c","x":250,"y":1.98},
{"p":"e","c":"25th","b":"d","x":0,"y":1.2},{"p":"e","c":"25th","b":"d","x":3,"y":0.9},{"p":"e","c":"25th","b":"d","x":8,"y":0.6},{"p":"e","c":"25th","b":"d","x":18,"y":0.42},{"p":"e","c":"25th","b":"d","x":38,"y":0.3},{"p":"e","c":"25th","b":"d","x":60,"y":0.2},{"p":"e","c":"25th","b":"d","x":80,"y":0.12},{"p":"e","c":"25th","b":"d","x":100,"y":0.06},{"p":"e","c":"25th","b":"d","x":115,"y":0},
{"p":"e","c":"25th","b":"c","x":0,"y":0.35},{"p":"e","c":"25th","b":"c","x":5,"y":0.45},{"p":"e","c":"25th","b":"c","x":16,"y":0.54},{"p":"e","c":"25th","b":"c","x":38,"y":0.68},{"p":"e","c":"25th","b":"c","x":56,"y":0.89},{"p":"e","c":"25th","b":"c","x":75,"y":1.17},{"p":"e","c":"25th","b":"c","x":89,"y":1.44},{"p":"e","c":"25th","b":"c","x":104,"y":1.76},{"p":"e","c":"25th","b":"c","x":111,"y":1.98},
{"p":"e","c":"50th","b":"d","x":0,"y":1},{"p":"e","c":"50th","b":"d","x":3,"y":0.6},{"p":"e","c":"50th","b":"d","x":9,"y":0.4},{"p":"e","c":"50th","b":"d","x":20,"y":0.27},{"p":"e","c":"50th","b":"d","x":35,"y":0.17},{"p":"e","c":"50th","b":"d","x":50,"y":0.1},{"p":"e","c":"50th","b":"d","x":65,"y":0.04},{"p":"e","c":"50th","b":"d","x":78,"y":0},
{"p":"e","c":"50th","b":"c","x":0,"y":0.4},{"p":"e","c":"50th","b":"c","x":3,"y":0.5},{"p":"e","c":"50th","b":"c","x":9,"y":0.61},{"p":"e","c":"50th","b":"c","x":23,"y":0.78},{"p":"e","c":"50th","b":"c","x":38,"y":0.99},{"p":"e","c":"50th","b":"c","x":53,"y":1.27},{"p":"e","c":"50th","b":"c","x":67,"y":1.62},{"p":"e","c":"50th","b":"c","x":78,"y":2},
{"p":"e","c":"100th","b":"d","x":0,"y":1},{"p":"e","c":"100th","b":"d","x":3,"y":0.6},{"p":"e","c":"100th","b":"d","x":8,"y":0.4},{"p":"e","c":"100th","b":"d","x":15,"y":0.25},{"p":"e","c":"100th","b":"d","x":25,"y":0.15},{"p":"e","c":"100th","b":"d","x":35,"y":0.07},{"p":"e","c":"100th","b":"d","x":48,"y":0},
{"p":"e","c":"100th","b":"c","x":0,"y":0.4},{"p":"e","c":"100th","b":"c","x":5,"y":0.5},{"p":"e","c":"100th","b":"c","x":12,"y":0.65},{"p":"e","c":"100th","b":"c","x":22,"y":0.9},{"p":"e","c":"100th","b":"c","x":32,"y":1.2},{"p":"e","c":"100th","b":"c","x":40,"y":1.5},{"p":"e","c":"100th","b":"c","x":48,"y":1.8},{"p":"e","c":"100th","b":"c","x":51,"y":2},
{"p":"e","c":"150th","b":"d","x":0,"y":0.9},{"p":"e","c":"150th","b":"d","x":3,"y":0.6},{"p":"e","c":"150th","b":"d","x":7,"y":0.4},{"p":"e","c":"150th","b":"d","x":12,"y":0.25},{"p":"e","c":"150th","b":"d","x":20,"y":0.13},{"p":"e","c":"150th","b":"d","x":28,"y":0.05},{"p":"e","c":"150th","b":"d","x":35,"y":0},
{"p":"e","c":"150th","b":"c","x":0,"y":0.4},{"p":"e","c":"150th","b":"c","x":3,"y":0.5},{"p":"e","c":"150th","b":"c","x":8,"y":0.65},{"p":"e","c":"150th","b":"c","x":14,"y":0.9},{"p":"e","c":"150th","b":"c","x":22,"y":1.2},{"p":"e","c":"150th","b":"c","x":30,"y":1.5},{"p":"e","c":"150th","b":"c","x":38,"y":1.8},{"p":"e","c":"150th","b":"c","x":42,"y":2},
{"p":"e","c":"200th","b":"d","x":0,"y":0.8},{"p":"e","c":"200th","b":"d","x":2,"y":0.5},{"p":"e","c":"200th","b":"d","x":5,"y":0.3},{"p":"e","c":"200th","b":"d","x":10,"y":0.17},{"p":"e","c":"200th","b":"d","x":18,"y":0.08},{"p":"e","c":"200th","b":"d","x":25,"y":0.03},{"p":"e","c":"200th","b":"d","x":30,"y":0},
{"p":"e","c":"200th","b":"c","x":0,"y":0.4},{"p":"e","c":"200th","b":"c","x":2,"y":0.5},{"p":"e","c":"200th","b":"c","x":5,"y":0.65},{"p":"e","c":"200th","b":"c","x":10,"y":0.9},{"p":"e","c":"200th","b":"c","x":16,"y":1.2},{"p":"e","c":"200th","b":"c","x":22,"y":1.5},{"p":"e","c":"200th","b":"c","x":27,"y":1.8},{"p":"e","c":"200th","b":"c","x":29,"y":2},

{"p":"f","c":"1st","b":"d","x":0,"y":2.08},{"p":"f","c":"1st","b":"d","x":10,"y":1.62},{"p":"f","c":"1st","b":"d","x":19,"y":1.27},{"p":"f","c":"1st","b":"d","x":36,"y":1.03},{"p":"f","c":"1st","b":"d","x":70,"y":0.78},{"p":"f","c":"1st","b":"d","x":113,"y":0.57},{"p":"f","c":"1st","b":"d","x":172,"y":0.4},{"p":"f","c":"1st","b":"d","x":232,"y":0.3},{"p":"f","c":"1st","b":"d","x":300,"y":0.226},{"p":"f","c":"1st","b":"d","x":386,"y":0.157},{"p":"f","c":"1st","b":"d","x":471,"y":0.104},{"p":"f","c":"1st","b":"d","x":557,"y":0.045},{"p":"f","c":"1st","b":"d","x":602,"y":0},
{"p":"f","c":"1st","b":"c","x":0,"y":0.4},{"p":"f","c":"1st","b":"c","x":3,"y":0.45},{"p":"f","c":"1st","b":"c","x":6,"y":0.5},{"p":"f","c":"1st","b":"c","x":19,"y":0.57},{"p":"f","c":"1st","b":"c","x":44,"y":0.64},{"p":"f","c":"1st","b":"c","x":87,"y":0.75},{"p":"f","c":"1st","b":"c","x":130,"y":0.85},{"p":"f","c":"1st","b":"c","x":164,"y":0.99},{"p":"f","c":"1st","b":"c","x":190,"y":1.1},{"p":"f","c":"1st","b":"c","x":224,"y":1.27},{"p":"f","c":"1st","b":"c","x":249,"y":1.51},{"p":"f","c":"1st","b":"c","x":266,"y":1.76},{"p":"f","c":"1st","b":"c","x":275,"y":2},
{"p":"f","c":"10th","b":"d","x":0,"y":1.1},{"p":"f","c":"10th","b":"d","x":8,"y":0.85},{"p":"f","c":"10th","b":"d","x":15,"y":0.65},{"p":"f","c":"10th","b":"d","x":30,"y":0.52},{"p":"f","c":"10th","b":"d","x":60,"y":0.38},{"p":"f","c":"10th","b":"d","x":100,"y":0.27},{"p":"f","c":"10th","b":"d","x":150,"y":0.16},{"p":"f","c":"10th","b":"d","x":185,"y":0.08},{"p":"f","c":"10th","b":"d","x":210,"y":0.02},{"p":"f","c":"10th","b":"d","x":215,"y":0},
{"p":"f","c":"10th","b":"c","x":0,"y":0.35},{"p":"f","c":"10th","b":"c","x":6,"y":0.43},{"p":"f","c":"10th","b":"c","x":15,"y":0.57},{"p":"f","c":"10th","b":"c","x":23,"y":0.68},{"p":"f","c":"10th","b":"c","x":32,"y":0.62},{"p":"f","c":"10th","b":"c","x":45,"y":0.66},{"p":"f","c":"10th","b":"c","x":79,"y":0.78},{"p":"f","c":"10th","b":"c","x":121,"y":0.96},{"p":"f","c":"10th","b":"c","x":155,"y":1.17},{"p":"f","c":"10th","b":"c","x":190,"y":1.44},{"p":"f","c":"10th","b":"c","x":215,"y":1.72},{"p":"f","c":"10th","b":"c","x":228,"y":2},
{"p":"f","c":"25th","b":"d","x":0,"y":1},{"p":"f","c":"25th","b":"d","x":6,"y":0.7},{"p":"f","c":"25th","b":"d","x":15,"y":0.5},{"p":"f","c":"25th","b":"d","x":30,"y":0.35},{"p":"f","c":"25th","b":"d","x":55,"y":0.22},{"p":"f","c":"25th","b":"d","x":80,"y":0.13},{"p":"f","c":"25th","b":"d","x":105,"y":0.05},{"p":"f","c":"25th","b":"d","x":128,"y":0},
{"p":"f","c":"25th","b":"c","x":0,"y":0.4},{"p":"f","c":"25th","b":"c","x":5,"y":0.55},{"p":"f","c":"25th","b":"c","x":15,"y":0.75},{"p":"f","c":"25th","b":"c","x":36,"y":0.92},{"p":"f","c":"25th","b":"c","x":53,"y":1.11},{"p":"f","c":"25th","b":"c","x":83,"y":1.34},{"p":"f","c":"25th","b":"c","x":104,"y":1.62},{"p":"f","c":"25th","b":"c","x":130,"y":1.95},
{"p":"f","c":"50th","b":"d","x":0,"y":0.9},{"p":"f","c":"50th","b":"d","x":5,"y":0.55},{"p":"f","c":"50th","b":"d","x":12,"y":0.38},{"p":"f","c":"50th","b":"d","x":22,"y":0.25},{"p":"f","c":"50th","b":"d","x":35,"y":0.15},{"p":"f","c":"50th","b":"d","x":50,"y":0.07},{"p":"f","c":"50th","b":"d","x":62,"y":0},
{"p":"f","c":"50th","b":"c","x":0,"y":0.45},{"p":"f","c":"50th","b":"c","x":3,"y":0.6},{"p":"f","c":"50th","b":"c","x":10,"y":0.92},{"p":"f","c":"50th","b":"c","x":23,"y":1.17},{"p":"f","c":"50th","b":"c","x":40,"y":1.41},{"p":"f","c":"50th","b":"c","x":57,"y":1.69},{"p":"f","c":"50th","b":"c","x":68,"y":2},
{"p":"f","c":"100th","b":"d","x":0,"y":0.8},{"p":"f","c":"100th","b":"d","x":4,"y":0.5},{"p":"f","c":"100th","b":"d","x":10,"y":0.3},{"p":"f","c":"100th","b":"d","x":20,"y":0.15},{"p":"f","c":"100th","b":"d","x":32,"y":0.05},{"p":"f","c":"100th","b":"d","x":40,"y":0},
{"p":"f","c":"100th","b":"c","x":0,"y":0.45},{"p":"f","c":"100th","b":"c","x":6,"y":0.6},{"p":"f","c":"100th","b":"c","x":14,"y":0.9},{"p":"f","c":"100th","b":"c","x":24,"y":1.2},{"p":"f","c":"100th","b":"c","x":32,"y":1.5},{"p":"f","c":"100th","b":"c","x":40,"y":1.8},{"p":"f","c":"100th","b":"c","x":44,"y":2},
{"p":"f","c":"150th","b":"d","x":0,"y":0.6},{"p":"f","c":"150th","b":"d","x":4,"y":0.35},{"p":"f","c":"150th","b":"d","x":9,"y":0.2},{"p":"f","c":"150th","b":"d","x":15,"y":0.1},{"p":"f","c":"150th","b":"d","x":20,"y":0.03},{"p":"f","c":"150th","b":"d","x":22,"y":0},
{"p":"f","c":"150th","b":"c","x":0,"y":0.4},{"p":"f","c":"150th","b":"c","x":2,"y":0.45},{"p":"f","c":"150th","b":"c","x":4,"y":0.6},{"p":"f","c":"150th","b":"c","x":9,"y":0.9},{"p":"f","c":"150th","b":"c","x":14,"y":1.2},{"p":"f","c":"150th","b":"c","x":19,"y":1.5},{"p":"f","c":"150th","b":"c","x":24,"y":1.8},{"p":"f","c":"150th","b":"c","x":27,"y":2},
{"p":"f","c":"200th","b":"d","x":0,"y":0.5},{"p":"f","c":"200th","b":"d","x":3,"y":0.3},{"p":"f","c":"200th","b":"d","x":7,"y":0.17},{"p":"f","c":"200th","b":"d","x":12,"y":0.08},{"p":"f","c":"200th","b":"d","x":17,"y":0.02},{"p":"f","c":"200th","b":"d","x":20,"y":0},
{"p":"f","c":"200th","b":"c","x":0,"y":0.4},{"p":"f","c":"200th","b":"c","x":1,"y":0.45},{"p":"f","c":"200th","b":"c","x":3,"y":0.6},{"p":"f","c":"200th","b":"c","x":7,"y":0.9},{"p":"f","c":"200th","b":"c","x":11,"y":1.2},{"p":"f","c":"200th","b":"c","x":14,"y":1.5},{"p":"f","c":"200th","b":"c","x":17,"y":1.8},{"p":"f","c":"200th","b":"c","x":19,"y":2}
]},
"columns":3,
"spacing":{"row":45,"column":54},
"bounds":"flush",
"resolve":{"legend":{"color":"independent","strokeDash":"independent"}},
"concat":[
{"width":273,"height":216,"title":{"text":"(a)","offset":-24,"dx":10},"transform":[{"filter":"datum.p=='a'"}],"mark":{"type":"line","strokeWidth":1.5},
"encoding":{"x":{"field":"x","type":"quantitative","scale":{"domain":[0,2000],"nice":false},"axis":{"values":[0,100,200,300,400,500,600,700,800,900,1000,1100,1200,1300,1400,1500,1600,1700,1800,1900,2000],"labelExpr":"datum.value % 200 == 0 ? format(datum.value,'d') : ''","tickSize":{"condition":{"test":"datum.value % 200 != 0","value":2},"value":4},"title":"Specific Capacity (mAh g⁻¹)"}},
"y":{"field":"y","type":"quantitative","scale":{"domain":[0,2.25],"nice":false},"axis":{"values":[0,0.25,0.5,0.75,1,1.25,1.5,1.75,2],"labelExpr":"(datum.value*2) % 1 == 0 ? format(datum.value,'.1f') : ''","tickSize":{"condition":{"test":"(datum.value*2) % 1 != 0","value":2},"value":4},"title":"Potential (V vs Na/Na⁺)"}},
"color":{"field":"c","type":"nominal","scale":{"domain":["1st","10th","25th","50th","100th","150th","200th"],"range":["#ff1a1a","#2f8f3a","#f7923a","#5a3db8","#4fd3e3","#c83cc8","#222222"]},"legend":{"title":null,"legendX":210,"legendY":92}},
"strokeDash":{"field":"c","type":"nominal","scale":{"domain":["1st","10th","25th","50th","100th","150th","200th"],"range":[[1,0],[7,4],[1.5,4],[9,3,2,3],[8,2,2,2,2,2],[4,2],[1,1.5]]},"legend":{"title":null,"legendX":210,"legendY":92}},
"detail":{"field":"b"}}},
{"width":274,"height":216,"title":{"text":"(b)","offset":-24,"dx":10},"transform":[{"filter":"datum.p=='b'"}],"mark":{"type":"line","strokeWidth":1.5},
"encoding":{"x":{"field":"x","type":"quantitative","scale":{"domain":[0,1600],"nice":false},"axis":{"values":[0,100,200,300,400,500,600,700,800,900,1000,1100,1200,1300,1400,1500,1600],"labelExpr":"datum.value % 200 == 0 ? format(datum.value,'d') : ''","tickSize":{"condition":{"test":"datum.value % 200 != 0","value":2},"value":4},"title":"Specific Capacity (mAh g⁻¹)"}},
"y":{"field":"y","type":"quantitative","scale":{"domain":[0,2.25],"nice":false},"axis":{"values":[0,0.25,0.5,0.75,1,1.25,1.5,1.75,2],"labelExpr":"(datum.value*2) % 1 == 0 ? format(datum.value,'.1f') : ''","tickSize":{"condition":{"test":"(datum.value*2) % 1 != 0","value":2},"value":4},"title":"Potential (V vs Na/Na⁺)"}},
"color":{"field":"c","type":"nominal","scale":{"domain":["1st","10th","25th","50th","100th","150th","200th"],"range":["#ff1a1a","#2f8f3a","#f7923a","#5a3db8","#4fd3e3","#c83cc8","#222222"]},"legend":{"title":null,"legendX":212,"legendY":102}},
"strokeDash":{"field":"c","type":"nominal","scale":{"domain":["1st","10th","25th","50th","100th","150th","200th"],"range":[[1,0],[7,4],[1.5,4],[9,3,2,3],[8,2,2,2,2,2],[4,2],[1,1.5]]},"legend":{"title":null,"legendX":212,"legendY":102}},
"detail":{"field":"b"}}},
{"width":275,"height":216,"title":{"text":"(c)","offset":-24,"dx":10},"transform":[{"filter":"datum.p=='c'"}],"mark":{"type":"line","strokeWidth":1.5},
"encoding":{"x":{"field":"x","type":"quantitative","scale":{"domain":[0,1400],"nice":false},"axis":{"values":[0,100,200,300,400,500,600,700,800,900,1000,1100,1200,1300,1400],"labelExpr":"datum.value % 200 == 0 ? format(datum.value,'d') : ''","tickSize":{"condition":{"test":"datum.value % 200 != 0","value":2},"value":4},"title":"Specific Capacity (mAh g⁻¹)"}},
"y":{"field":"y","type":"quantitative","scale":{"domain":[0,2.25],"nice":false},"axis":{"values":[0,0.25,0.5,0.75,1,1.25,1.5,1.75,2],"labelExpr":"(datum.value*2) % 1 == 0 ? format(datum.value,'.1f') : ''","tickSize":{"condition":{"test":"(datum.value*2) % 1 != 0","value":2},"value":4},"title":"Potential (V vs Na/Na⁺)"}},
"color":{"field":"c","type":"nominal","scale":{"domain":["1st","10th","25th","50th","100th","150th","200th"],"range":["#ff1a1a","#2f8f3a","#f7923a","#5a3db8","#4fd3e3","#c83cc8","#222222"]},"legend":{"title":null,"legendX":204,"legendY":76}},
"strokeDash":{"field":"c","type":"nominal","scale":{"domain":["1st","10th","25th","50th","100th","150th","200th"],"range":[[1,0],[7,4],[1.5,4],[9,3,2,3],[8,2,2,2,2,2],[4,2],[1,1.5]]},"legend":{"title":null,"legendX":204,"legendY":76}},
"detail":{"field":"b"}}},
{"width":273,"height":216,"title":{"text":"(d)","offset":-24,"dx":10},"transform":[{"filter":"datum.p=='d'"}],"mark":{"type":"line","strokeWidth":1.5},
"encoding":{"x":{"field":"x","type":"quantitative","scale":{"domain":[0,1000],"nice":false},"axis":{"values":[0,50,100,150,200,250,300,350,400,450,500,550,600,650,700,750,800,850,900,950,1000],"labelExpr":"datum.value % 100 == 0 ? format(datum.value,'d') : ''","tickSize":{"condition":{"test":"datum.value % 100 != 0","value":2},"value":4},"title":"Specific Capacity (mAh g⁻¹)"}},
"y":{"field":"y","type":"quantitative","scale":{"domain":[0,2.25],"nice":false},"axis":{"values":[0,0.25,0.5,0.75,1,1.25,1.5,1.75,2],"labelExpr":"(datum.value*2) % 1 == 0 ? format(datum.value,'.1f') : ''","tickSize":{"condition":{"test":"(datum.value*2) % 1 != 0","value":2},"value":4},"title":"Potential (V vs Na/Na⁺)"}},
"color":{"field":"c","type":"nominal","scale":{"domain":["1st","10th","25th","50th","100th","150th","200th"],"range":["#ff1a1a","#2f8f3a","#f7923a","#5a3db8","#4fd3e3","#c83cc8","#222222"]},"legend":{"title":null,"legendX":203,"legendY":77}},
"strokeDash":{"field":"c","type":"nominal","scale":{"domain":["1st","10th","25th","50th","100th","150th","200th"],"range":[[1,0],[7,4],[1.5,4],[9,3,2,3],[8,2,2,2,2,2],[4,2],[1,1.5]]},"legend":{"title":null,"legendX":203,"legendY":77}},
"detail":{"field":"b"}}},
{"width":274,"height":216,"title":{"text":"(e)","offset":-24,"dx":10},"transform":[{"filter":"datum.p=='e'"}],"mark":{"type":"line","strokeWidth":1.5},
"encoding":{"x":{"field":"x","type":"quantitative","scale":{"domain":[0,600],"nice":false},"axis":{"values":[0,50,100,150,200,250,300,350,400,450,500,550,600],"labelExpr":"datum.value % 100 == 0 ? format(datum.value,'d') : ''","tickSize":{"condition":{"test":"datum.value % 100 != 0","value":2},"value":4},"title":"Specific Capacity (mAh g⁻¹)"}},
"y":{"field":"y","type":"quantitative","scale":{"domain":[0,2.25],"nice":false},"axis":{"values":[0,0.25,0.5,0.75,1,1.25,1.5,1.75,2],"labelExpr":"(datum.value*2) % 1 == 0 ? format(datum.value,'.1f') : ''","tickSize":{"condition":{"test":"(datum.value*2) % 1 != 0","value":2},"value":4},"title":"Potential (V vs Na/Na⁺)"}},
"color":{"field":"c","type":"nominal","scale":{"domain":["1st","10th","25th","50th","100th","150th","200th"],"range":["#ff1a1a","#2f8f3a","#f7923a","#5a3db8","#4fd3e3","#c83cc8","#222222"]},"legend":{"title":null,"legendX":205,"legendY":78}},
"strokeDash":{"field":"c","type":"nominal","scale":{"domain":["1st","10th","25th","50th","100th","150th","200th"],"range":[[1,0],[7,4],[1.5,4],[9,3,2,3],[8,2,2,2,2,2],[4,2],[1,1.5]]},"legend":{"title":null,"legendX":205,"legendY":78}},
"detail":{"field":"b"}}},
{"width":275,"height":216,"title":{"text":"(f)","offset":-24,"dx":10},"transform":[{"filter":"datum.p=='f'"}],"mark":{"type":"line","strokeWidth":1.5},
"encoding":{"x":{"field":"x","type":"quantitative","scale":{"domain":[0,700],"nice":false},"axis":{"values":[0,50,100,150,200,250,300,350,400,450,500,550,600,650,700],"labelExpr":"datum.value % 100 == 0 ? format(datum.value,'d') : ''","tickSize":{"condition":{"test":"datum.value % 100 != 0","value":2},"value":4},"title":"Specific Capacity (mAh g⁻¹)"}},
"y":{"field":"y","type":"quantitative","scale":{"domain":[0,2.25],"nice":false},"axis":{"values":[0,0.25,0.5,0.75,1,1.25,1.5,1.75,2],"labelExpr":"(datum.value*2) % 1 == 0 ? format(datum.value,'.1f') : ''","tickSize":{"condition":{"test":"(datum.value*2) % 1 != 0","value":2},"value":4},"title":"Potential (V vs Na/Na⁺)"}},
"color":{"field":"c","type":"nominal","scale":{"domain":["1st","10th","25th","50th","100th","150th","200th"],"range":["#ff1a1a","#2f8f3a","#f7923a","#5a3db8","#4fd3e3","#c83cc8","#222222"]},"legend":{"title":null,"legendX":205,"legendY":78}},
"strokeDash":{"field":"c","type":"nominal","scale":{"domain":["1st","10th","25th","50th","100th","150th","200th"],"range":[[1,0],[7,4],[1.5,4],[9,3,2,3],[8,2,2,2,2,2],[4,2],[1,1.5]]},"legend":{"title":null,"legendX":205,"legendY":78}},
"detail":{"field":"b"}}}
],
"config":{
"font":"Liberation Serif",
"view":{"stroke":"#222","strokeWidth":1.2},
"axis":{"labelFont":"Liberation Serif","labelFontWeight":"bold","labelFontSize":9.5,"labelColor":"#222","titleFont":"Liberation Serif","titleFontWeight":"bold","titleFontSize":10.5,"titleColor":"#222","domainColor":"#222","domainWidth":1.2,"tickColor":"#222","tickWidth":1,"grid":false,"labelPadding":2},
"axisX":{"titlePadding":8,"titleFontSize":11.3},
"axisY":{"titlePadding":10},
"legend":{"orient":"none","symbolType":"stroke","symbolSize":729,"symbolStrokeWidth":1.6,"labelFont":"Liberation Serif","labelFontWeight":"bold","labelFontSize":11,"labelColor":"#222","clipHeight":14.3,"rowPadding":0,"labelOffset":2},
"title":{"font":"Liberation Serif","fontWeight":"bold","fontSize":16,"color":"#222","anchor":"start","frame":"group","baseline":"alphabetic"}
}
}
